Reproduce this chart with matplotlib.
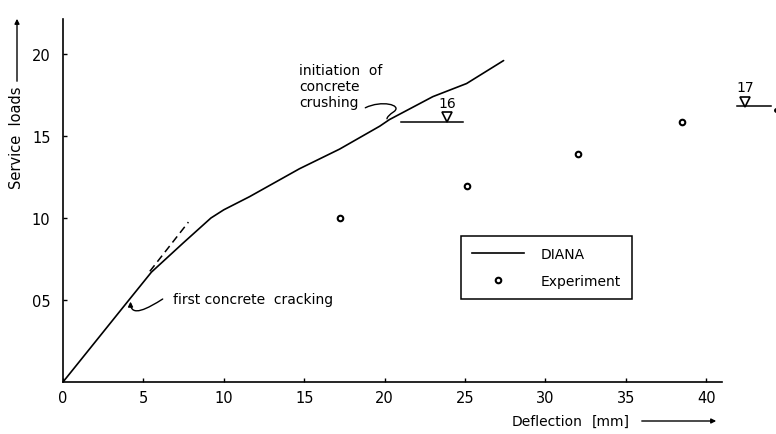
import matplotlib
matplotlib.use("Agg")
import matplotlib.pyplot as plt
from matplotlib.path import Path
from matplotlib.patches import FancyArrowPatch
from matplotlib.lines import Line2D

plt.rcParams['font.family'] = ['Liberation Sans Narrow', 'DejaVu Sans']

# DIANA load-deflection curve
diana_defl = [0.0, 4.1, 5.5, 7.5, 9.2, 10.0, 11.6, 14.7, 17.2, 19.7, 20.3, 23.0, 25.1, 27.4]
diana_load = [0.0, 5.0, 6.7, 8.5, 10.0, 10.5, 11.3, 13.0, 14.2, 15.6, 16.0, 17.4, 18.2, 19.6]

# linear-elastic extension beyond first cracking
elastic_defl = [5.4, 7.8]
elastic_load = [6.75, 9.75]

# measured points
exp_defl = [17.2, 25.1, 32.0, 38.5]
exp_load = [10.0, 11.95, 13.9, 15.85]

# failure load levels
fail_labels = ["16", "17"]
fail_load = [15.85, 16.8]
fail_x0 = [21.0, 41.9]
fail_x1 = [24.9, 44.0]
fail_tri = [23.9, 42.4]

x_ticks = [0, 5, 10, 15, 20, 25, 30, 35, 40]
y_ticks = [5, 10, 15, 20]
y_ticklabels = ["05", "10", "15", "20"]

fig = plt.figure(figsize=(7.76, 4.35), dpi=100)
ax = fig.add_axes([63 / 776, 52 / 435, 711 / 776, 363 / 435])
ax.set_xlim(0, 711 / 16.08)
ax.set_ylim(0, 363 / 16.4)

ax.plot(diana_defl, diana_load, color='black', lw=1.2, solid_capstyle='round')
ax.plot(elastic_defl, elastic_load, color='black', lw=1.1, ls=(0, (5, 3)))
ax.plot(exp_defl, exp_load, ls='none', marker='o', ms=4, mfc='white', mec='black', mew=1.5)

for lab, ld, a, b, t in zip(fail_labels, fail_load, fail_x0, fail_x1, fail_tri):
    ax.plot([a, b], [ld, ld], color='black', lw=1.1, clip_on=False)
    ax.plot([t], [ld + 0.3], marker='v', ms=7, mfc='white', mec='black', mew=1.2,
            ls='none', clip_on=False)
    ax.text(t, ld + 0.75, lab, ha='center', va='bottom', fontsize=10)
ax.plot([44.35], [16.6], marker='o', ms=2.5, color='black', clip_on=False)

# axes styling
for s in ('top', 'right'):
    ax.spines[s].set_visible(False)
ax.spines['bottom'].set_bounds(0, 41)
ax.spines['left'].set_linewidth(1.2)
ax.spines['bottom'].set_linewidth(1.2)
ax.set_xticks(x_ticks)
ax.set_xticklabels([str(v) for v in x_ticks], fontsize=10.5)
ax.set_yticks(y_ticks)
ax.set_yticklabels(y_ticklabels, fontsize=10.5)
ax.tick_params(direction='in', length=3, width=1, pad=6)
ax.tick_params(axis='y', pad=9)

# annotations
ax.text(6.85, 5.06, "first concrete  cracking", fontsize=10, va='center', ha='left')
hook = Path([(6.2, 5.06), (5.3, 4.5), (4.2, 3.9), (4.2, 4.9)],
            [Path.MOVETO, Path.CURVE4, Path.CURVE4, Path.CURVE4])
ax.add_patch(FancyArrowPatch(path=hook, arrowstyle='-|>', mutation_scale=7,
                             color='black', lw=1.0))

ax.text(14.7, 18.05, "initiation  of\nconcrete\ncrushing", fontsize=10,
        va='center', ha='left', linespacing=1.15)
s_lead = Path([(18.8, 16.72), (19.8, 17.2), (21.1, 16.9), (20.6, 16.5),
               (20.3, 16.3), (20.15, 16.15), (20.15, 16.05)],
              [Path.MOVETO, Path.CURVE4, Path.CURVE4, Path.CURVE4,
               Path.CURVE4, Path.CURVE4, Path.CURVE4])
ax.add_patch(FancyArrowPatch(path=s_lead, arrowstyle='-', color='black', lw=1.0))

# legend
handles = [Line2D([], [], color='black', lw=1.2),
           Line2D([], [], ls='none', marker='o', ms=4, mfc='white', mec='black', mew=1.5)]
leg = ax.legend(handles, ["DIANA", "Experiment"], loc='lower left',
                bbox_to_anchor=(0.56, 0.229, 0.24, 0.165), mode='expand',
                fontsize=10, handlelength=3.7, handletextpad=1.2, labelspacing=0.9,
                borderpad=0.8, fancybox=False, framealpha=1, borderaxespad=0)
leg.get_frame().set_edgecolor('black')
leg.get_frame().set_linewidth(1.1)

# axis titles with arrows
fig.text(17 / 776, 1 - 138 / 435, "Service  loads", rotation=90, ha='center',
         va='center', fontsize=10.5)
fig.add_artist(FancyArrowPatch((17 / 776, 1 - 85 / 435), (17 / 776, 1 - 17 / 435),
                               transform=fig.transFigure, arrowstyle='-|>',
                               mutation_scale=7, color='black', lw=1.0))
fig.text(512 / 776, 1 - 422 / 435, "Deflection", ha='left', va='center', fontsize=10)
fig.text(592 / 776, 1 - 422 / 435, "[mm]", ha='left', va='center', fontsize=10)
fig.add_artist(FancyArrowPatch((639 / 776, 1 - 422 / 435), (719 / 776, 1 - 422 / 435),
                               transform=fig.transFigure, arrowstyle='-|>',
                               mutation_scale=7, color='black', lw=1.0))

fig.savefig("out.png", dpi=100)
